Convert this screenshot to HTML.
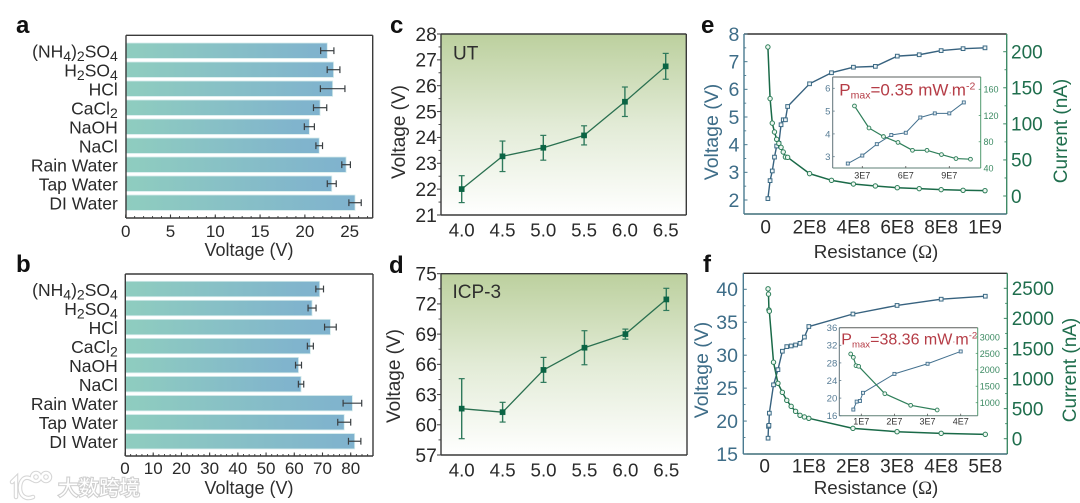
<!DOCTYPE html>
<html lang="en">
<head>
<meta charset="utf-8">
<title>Voltage and current characterization panels</title>
<style>
html,body{margin:0;padding:0;background:#fff;}
svg{display:block;filter:blur(0.35px);font-family:"Liberation Sans","Noto Sans CJK SC",sans-serif;}
</style>
</head>
<body>
<svg id="fig" xmlns="http://www.w3.org/2000/svg" width="1080" height="503" viewBox="0 0 1080 503">
  <defs>
    <linearGradient id="barGrad" x1="0" y1="0" x2="1" y2="0">
      <stop offset="0" stop-color="#8fcdbf"/><stop offset="1" stop-color="#7fb2ce"/>
    </linearGradient>
    <linearGradient id="plotGrad" x1="0" y1="0" x2="0" y2="1">
      <stop offset="0" stop-color="#bcd09e"/><stop offset="0.5" stop-color="#e2ebd6"/><stop offset="1" stop-color="#ffffff"/>
    </linearGradient>
  </defs>
  <rect x="0" y="0" width="1080" height="503" fill="#fff"/>

  <g id="panelA"></g>
  <g id="panelB"></g>
  <g id="panelC"></g>
  <g id="panelD"></g>
  <g id="panelE"></g>
  <g id="panelF"></g>

  <g font-size="24" font-weight="bold" fill="#111">
    <text x="16" y="33">a</text>
    <text x="16" y="272">b</text>
    <text x="390" y="33">c</text>
    <text x="389" y="273">d</text>
    <text x="701" y="33">e</text>
    <text x="703" y="272">f</text>
  </g>

  <g font-size="18" fill="#2e2e2e">
    <text x="249" y="256" text-anchor="middle">Voltage (V)</text>
    <text x="249" y="494" text-anchor="middle">Voltage (V)</text>
    <text transform="translate(405,132) rotate(-90)" text-anchor="middle" font-size="19">Voltage (V)</text>
    <text transform="translate(400,376) rotate(-90)" text-anchor="middle" font-size="19">Voltage (V)</text>
    <text x="453" y="59.5" font-size="19">UT</text>
    <text x="452.5" y="298" font-size="19">ICP-3</text>
    <text x="876" y="258" text-anchor="middle" font-size="18.8">Resistance (<tspan font-family="'Liberation Serif',serif">Ω</tspan>)</text>
    <text x="876" y="494" text-anchor="middle" font-size="18.8">Resistance (<tspan font-family="'Liberation Serif',serif">Ω</tspan>)</text>
    <text transform="translate(718,132) rotate(-90)" text-anchor="middle" font-size="19.5" fill="#3e6d88">Voltage (V)</text>
    <text transform="translate(1067,131) rotate(-90)" text-anchor="middle" font-size="19" fill="#1f6e4d">Current (nA)</text>
    <text transform="translate(708,370) rotate(-90)" text-anchor="middle" font-size="19.5" fill="#3e6d88">Voltage (V)</text>
    <text transform="translate(1076,370) rotate(-90)" text-anchor="middle" font-size="19" fill="#1f6e4d">Current (nA)</text>
  </g>

  <g fill="#b53c46">
    <text x="839.3" y="95.7" font-size="17">P<tspan font-size="10.5" dy="3">max</tspan><tspan dy="-3">=0.35 mW</tspan><tspan font-size="10">·</tspan>m<tspan font-size="10.5" dy="-6">-2</tspan></text>
    <text x="841.3" y="344.3" font-size="16">P<tspan font-size="9.6" dy="3">max</tspan><tspan dy="-3">=38.36 mW</tspan><tspan font-size="9">·</tspan>m<tspan font-size="9.6" dy="-6">-2</tspan></text>
  </g>

  <g>
    <g fill="none" stroke-linecap="round">
      <path d="M12 482L16 478V497M33 480C24 474 20 481 20 488C20 496 26 500 33 497M40 477a4 4 0 1 0 -8 0a4 4 0 1 0 8 0M50 477a4 4 0 1 0 -8 0a4 4 0 1 0 8 0" stroke="#d6d6d6" stroke-width="4.5"/>
      <path d="M12 482L16 478V497M33 480C24 474 20 481 20 488C20 496 26 500 33 497M40 477a4 4 0 1 0 -8 0a4 4 0 1 0 8 0M50 477a4 4 0 1 0 -8 0a4 4 0 1 0 8 0" stroke="#ffffff" stroke-width="2.4"/>
    </g>
    <text x="58" y="495" font-size="20.5" font-family="'Noto Sans CJK SC','Liberation Sans',sans-serif" fill="#ffffff" stroke="#cfcfcf" stroke-width="2.2" paint-order="stroke">大数跨境</text>
  </g>
</svg>

<script>
/* ---------- panel a data ---------- */
const categoriesA = ["(NH4)2SO4","H2SO4","HCl","CaCl2","NaOH","NaCl","Rain Water","Tap Water","DI Water"];
const voltageA = [22.5,23.2,23.1,21.7,20.5,21.6,24.6,23.0,25.6];
const errorA = [0.74,0.71,1.37,0.74,0.56,0.37,0.48,0.5,0.69];
const ticksA = [0,5,10,15,20,25];

/* ---------- panel b data ---------- */
const categoriesB = ["(NH4)2SO4","H2SO4","HCl","CaCl2","NaOH","NaCl","Rain Water","Tap Water","DI Water"];
const voltageB = [69.0,66.3,72.8,65.7,61.5,62.4,80.6,77.7,81.4];
const errorB = [1.36,1.42,2.07,1.06,1.06,0.95,3.3,2.3,2.2];
const ticksB = [0,10,20,30,40,50,60,70,80];

/* ---------- panel c data ---------- */
const humidityC = [4.0,4.5,5.0,5.5,6.0,6.5];
const voltageC = [22.0,23.27,23.6,24.08,25.38,26.75];
const errorC = [0.52,0.59,0.48,0.37,0.57,0.5];
const yTicksC = [21,22,23,24,25,26,27,28];
const xTickLabelsC = ["4.0","4.5","5.0","5.5","6.0","6.5"];

/* ---------- panel d data ---------- */
const humidityD = [4.0,4.5,5.0,5.5,6.0,6.5];
const voltageD = [61.6,61.25,65.45,67.65,69.0,72.45];
const errorD = [2.98,0.98,1.24,1.69,0.5,1.1];
const yTicksD = [57,60,63,66,69,72,75];
const xTickLabelsD = ["4.0","4.5","5.0","5.5","6.0","6.5"];

/* ---------- panel e data ---------- */
const resistanceE = [1e7,2e7,3e7,4e7,5e7,6e7,7e7,8e7,9e7,1e8,2e8,3e8,4e8,5e8,6e8,7e8,8e8,9e8,1e9];
const voltageE = [2.05,2.7,3.05,3.55,3.95,4.05,4.72,4.9,4.9,5.38,6.2,6.6,6.8,6.83,7.2,7.25,7.4,7.47,7.5];
const currentE = [206.5,135,101,88.7,78.6,73,67.4,61,54,53.6,31,21.7,16.6,13.9,11.5,10.2,8.8,7.9,7.4];
const xTickValuesE = [0,2e8,4e8,6e8,8e8,1e9];
const xTickLabelsE = ["0","2E8","4E8","6E8","8E8","1E9"];
const voltTicksE = [2,3,4,5,6,7,8];
const currTicksE = [0,50,100,150,200];
const insetResistanceVoltE = [2e7,3e7,4e7,5e7,6e7,7e7,8e7,9e7,1e8];
const insetVoltageE = [2.7,3.05,3.55,3.95,4.05,4.72,4.9,4.9,5.38];
const insetResistanceCurrE = [2.46e7,3.46e7,4.46e7,5.46e7,6.46e7,7.46e7,8.46e7,9.46e7,1.046e8];
const insetCurrentE = [134.6,101,88,79,67,67,60.5,54.4,53.4];
const insetXTickValuesE = [3e7,6e7,9e7];
const insetXTickLabelsE = ["3E7","6E7","9E7"];
const insetVoltTicksE = [3,4,5,6];
const insetCurrTicksE = [40,80,120,160];

/* ---------- panel f data ---------- */
const resistanceF = [0.76e7,0.86e7,0.96e7,1.05e7,2e7,3e7,4e7,5e7,6e7,7e7,8e7,9e7,1e8,2e8,3e8,4e8,5e8];
const voltageF = [17.4,19.2,19.35,21.2,25.5,27.8,30.6,31.3,31.4,31.55,31.8,32.75,34.35,36.25,37.55,38.5,38.95];
const currentF = [2491,2403,2141,2119,1271,921,771,638,538,455,389,361,339,172,116,89,72];
const xTickValuesF = [0,1e8,2e8,3e8,4e8,5e8];
const xTickLabelsF = ["0","1E8","2E8","3E8","4E8","5E8"];
const voltTicksF = [15,20,25,30,35,40];
const currTicksF = [0,500,1000,1500,2000,2500];
const insetResistanceVoltF = [0.76e7,0.86e7,0.96e7,1.05e7,2e7,3e7,4e7];
const insetVoltageF = [17.4,19.2,19.35,21.2,25.5,27.8,30.6];
const insetResistanceCurrF = [0.68e7,0.76e7,0.84e7,0.92e7,1.71e7,2.49e7,3.29e7];
const insetCurrentF = [2480,2379,2125,2106,1273,921,778];
const insetXTickValuesF = [1e7,2e7,3e7,4e7];
const insetXTickLabelsF = ["1E7","2E7","3E7","4E7"];
const insetVoltTicksF = [16,20,24,28,32,36];
const insetCurrTicksF = [1000,1500,2000,2500,3000];

/* ---------- helpers ---------- */
const NS = "http://www.w3.org/2000/svg";
const TEXT_DARK = "#2a2a2a", FRAME_DARK = "#3a3a3a";
const BLUE = "#3e6d88", GREEN = "#1f6e4d";

function linear(d0, d1, r0, r1) {
  return function (v) { return r0 + (v - d0) * (r1 - r0) / (d1 - d0); };
}
function raw(parent, tag, attrs) {
  const el = document.createElementNS(NS, tag);
  for (const k in attrs) el.setAttribute(k, attrs[k]);
  parent.appendChild(el);
  return el;
}
function seg(parent, name, x1, y1, x2, y2, color, w) {
  const el = raw(parent, "line", {x1: x1, y1: y1, x2: x2, y2: y2, stroke: color, "stroke-width": w});
  
  
  return el;
}
function label(parent, name, x, y, str, size, color, anchor) {
  const el = raw(parent, "text", {x: x, y: y, "font-size": size, fill: color, "text-anchor": anchor || "middle"});
  el.textContent = str;
  
  
  return el;
}
function chemLabel(parent, name, x, y, str, size, color) {
  const el = raw(parent, "text", {x: x, y: y, "font-size": size, fill: color, "text-anchor": "end"});
  
  
  const parts = str.split(/(\d+)/).filter(function (s) { return s.length; });
  let shifted = false;
  parts.forEach(function (part) {
    const isSub = /^\d+$/.test(part);
    const ts = document.createElementNS(NS, "tspan");
    ts.textContent = part;
    if (isSub) { ts.setAttribute("dy", "3.5"); ts.setAttribute("font-size", size * 0.8); shifted = true; }
    else if (shifted) { ts.setAttribute("dy", "-3.5"); shifted = false; }
    el.appendChild(ts);
  });
  return el;
}
function frame(parent, name, x0, y0, x1, y1, top, right, bottom, left, w) {
  seg(parent, name + "-top", x0, y0, x1, y0, top, w);
  seg(parent, name + "-right", x1, y0, x1, y1, right, w);
  seg(parent, name + "-bottom", x0, y1, x1, y1, bottom, w);
  seg(parent, name + "-left", x0, y0, x0, y1, left, w);
}
function polyline(parent, name, xs, ys, sx, sy, color, w) {
  const pts = xs.map(function (x, i) { return sx(x).toFixed(2) + "," + sy(ys[i]).toFixed(2); }).join(" ");
  const el = raw(parent, "polyline", {points: pts, fill: "none", stroke: color, "stroke-width": w, "stroke-linejoin": "round"});
  
  
  return el;
}
function squarePoints(parent, name, xs, ys, sx, sy, size, color, fill, w) {
  xs.forEach(function (x, i) {
    const el = raw(parent, "rect", {x: sx(x) - size / 2, y: sy(ys[i]) - size / 2, width: size, height: size, fill: fill, stroke: color, "stroke-width": w});
    
    
  });
}
function circlePoints(parent, name, xs, ys, sx, sy, r, color, fill, w) {
  xs.forEach(function (x, i) {
    const el = raw(parent, "circle", {cx: sx(x), cy: sy(ys[i]), r: r, fill: fill, stroke: color, "stroke-width": w});
    
    
  });
}

/* ---------- horizontal bars ---------- */
function drawBars(p, letter, cats, vals, errs, ticks, minorStep, box) {
  const sx = linear(0, box.max, box.zero, box.x1);
  const band = function (i) { return box.firstCenter + i * box.step; };
  cats.forEach(function (c, i) {
    const slug = c.toLowerCase().replace(/[^a-z0-9]+/g, "-");
    const bar = raw(p, "rect", {x: sx(0), y: band(i) - 7.7, width: sx(vals[i]) - sx(0), height: 15.4, fill: "url(#barGrad)", stroke: "#d6ecec", "stroke-width": 0.8});
    
    
    const lo = sx(vals[i] - errs[i]), hi = sx(vals[i] + errs[i]);
    seg(p, "error-bar-" + slug, lo, band(i), hi, band(i), "#3a3f42", 1.2);
    seg(p, "error-cap-low-" + slug, lo, band(i) - 3.4, lo, band(i) + 3.4, "#3a3f42", 1.2);
    seg(p, "error-cap-high-" + slug, hi, band(i) - 3.4, hi, band(i) + 3.4, "#3a3f42", 1.2);
    chemLabel(p, "category-label-" + slug, 117.8, band(i) + 7, c, 17.5, TEXT_DARK);
  });
  frame(p, "plot-frame-" + letter, box.x0, box.y0, box.x1, box.y1, FRAME_DARK, FRAME_DARK, FRAME_DARK, FRAME_DARK, 1.4);
  for (let v = 0; v <= box.max; v += minorStep) {
    seg(p, "x-minor-tick-" + letter, sx(v), box.y1, sx(v), box.y1 - 2, FRAME_DARK, 0.9);
  }
  ticks.forEach(function (t) {
    seg(p, "x-major-tick-" + letter, sx(t), box.y1, sx(t), box.y1 - 3.5, FRAME_DARK, 1.1);
    label(p, "x-tick-label-" + letter, sx(t), box.labelY, String(t), 17, TEXT_DARK);
  });
}
drawBars(document.getElementById("panelA"), "a", categoriesA, voltageA, errorA, ticksA, 1,
  {x0: 126, x1: 372.7, y0: 35.3, y1: 218, zero: 125.7, max: 27.57, firstCenter: 50.7, step: 19, labelY: 237});
drawBars(document.getElementById("panelB"), "b", categoriesB, voltageB, errorB, ticksB, 2,
  {x0: 125.3, x1: 373, y0: 274, y1: 456, zero: 125, max: 87.9, firstCenter: 289, step: 19.03, labelY: 474});

/* ---------- error-bar line charts ---------- */
function drawLine(p, letter, xs, ys, errs, yTicks, xLabels, yMinor, box) {
  const bg = raw(p, "rect", {x: box.x0, y: box.y0, width: box.x1 - box.x0, height: box.y1 - box.y0, fill: "url(#plotGrad)"});
  
  
  const sx = linear(4, 6.5, box.xa, box.xb);
  const sy = linear(yTicks[0], yTicks[yTicks.length - 1], box.y1, box.y0);
  frame(p, "plot-frame-" + letter, box.x0, box.y0, box.x1, box.y1, FRAME_DARK, FRAME_DARK, FRAME_DARK, FRAME_DARK, 1.4);
  yTicks.forEach(function (t, i) {
    seg(p, "y-major-tick-" + letter, box.x0, sy(t), box.x0 - 4, sy(t), FRAME_DARK, 1);
    label(p, "y-tick-label-" + letter, 436.8, sy(t) + 6.8, String(t), 19.3, TEXT_DARK, "end");
    if (i < yTicks.length - 1) seg(p, "y-minor-tick-" + letter, box.x0, sy(t + yMinor), box.x0 - 2.5, sy(t + yMinor), FRAME_DARK, 0.9);
  });
  xLabels.forEach(function (t, i) {
    label(p, "x-tick-label-" + letter, sx(xs[i]), box.labelY, t, 18.7, TEXT_DARK);
  });
  polyline(p, "voltage-line-" + letter, xs, ys, sx, sy, "#2a7050", 1.3);
  xs.forEach(function (x, i) {
    const hi = sy(ys[i] + errs[i]), lo = sy(ys[i] - errs[i]), px = sx(x);
    seg(p, "error-bar-" + letter, px, hi, px, lo, "#2f7a5c", 1.4);
    seg(p, "error-cap-top-" + letter, px - 3, hi, px + 3, hi, "#2f7a5c", 1.2);
    seg(p, "error-cap-bottom-" + letter, px - 3, lo, px + 3, lo, "#2f7a5c", 1.2);
  });
  squarePoints(p, "voltage-point-" + letter, xs, ys, sx, sy, 5.4, "#0b6444", "#0b6444", 0.3);
}
drawLine(document.getElementById("panelC"), "c", humidityC, voltageC, errorC, yTicksC, xTickLabelsC, 0.5,
  {x0: 441, x1: 686.3, y0: 34, y1: 215, xa: 461.7, xb: 665.7, labelY: 236.7});
drawLine(document.getElementById("panelD"), "d", humidityD, voltageD, errorD, yTicksD, xTickLabelsD, 1.5,
  {x0: 441, x1: 687, y0: 273.7, y1: 455, xa: 461.7, xb: 666.3, labelY: 476.7});

/* ---------- dual axis charts ---------- */
function drawDual(p, letter, c) {
  frame(p, "plot-frame-" + letter, c.x0, c.y0, c.x1, c.y1, "#333333", "#3f8a66", "#3f6e78", "#4a7a90", 1.4);
  c.voltTicks.forEach(function (t, i) {
    seg(p, "left-major-tick-" + letter, c.x0, c.sv(t), c.x0 + 3.5, c.sv(t), "#4a7a90", 1);
    label(p, "left-tick-label-" + letter, c.leftEdge, c.sv(t) + 6.8, String(t), 19.5, BLUE, "end");
    if (i < c.voltTicks.length - 1) {
      const m = (t + c.voltTicks[i + 1]) / 2;
      seg(p, "left-minor-tick-" + letter, c.x0, c.sv(m), c.x0 + 2.2, c.sv(m), "#4a7a90", 0.9);
    }
  });
  c.currTicks.forEach(function (t, i) {
    seg(p, "right-major-tick-" + letter, c.x1, c.si(t), c.x1 - 3.5, c.si(t), "#3f8a66", 1);
    label(p, "right-tick-label-" + letter, c.rightEdge, c.si(t) + 6.8, String(t), 19, GREEN, "start");
    if (i < c.currTicks.length - 1) {
      const m = (t + c.currTicks[i + 1]) / 2;
      seg(p, "right-minor-tick-" + letter, c.x1, c.si(m), c.x1 - 2.2, c.si(m), "#3f8a66", 0.9);
    }
  });
  c.xVals.forEach(function (t, i) {
    label(p, "x-tick-label-" + letter, c.sx(t), c.labelY, c.xLabels[i], 19, TEXT_DARK);
  });
  polyline(p, "voltage-line-" + letter, c.res, c.volt, c.sx, c.sv, "#37627f", 1.4);
  polyline(p, "current-line-" + letter, c.res, c.curr, c.sx, c.si, "#1a6a48", 1.5);
  squarePoints(p, "voltage-point-" + letter, c.res, c.volt, c.sx, c.sv, 3.7, "#3b6a85", "#eef4f6", 1);
  circlePoints(p, "current-point-" + letter, c.res, c.curr, c.sx, c.si, 2.2, "#2b7d58", "#eef6f0", 1);
}
function drawInset(p, letter, c) {
  const bg = raw(p, "rect", {x: c.x0, y: c.y0, width: c.x1 - c.x0, height: c.y1 - c.y0, fill: "#ffffff"});
  
  
  frame(p, "inset-frame-" + letter, c.x0, c.y0, c.x1, c.y1, "#5a5f5c", "#4f9a6c", "#5d7f74", "#5f7278", 1);
  c.voltTicks.forEach(function (t) {
    seg(p, "inset-left-tick-" + letter, c.x0, c.sv(t), c.x0 + 2, c.sv(t), "#5f7a8a", 0.8);
    label(p, "inset-left-tick-label-" + letter, c.leftEdge, c.sv(t) + 3.4, String(t), 9.6, "#587d96", "end");
  });
  c.currTicks.forEach(function (t) {
    seg(p, "inset-right-tick-" + letter, c.x1, c.si(t), c.x1 - 2, c.si(t), "#4f9a6c", 0.8);
    label(p, "inset-right-tick-label-" + letter, c.rightEdge, c.si(t) + 3.4, String(t), 9, "#3b8a62", "start");
  });
  c.xVals.forEach(function (t, i) {
    seg(p, "inset-x-tick-" + letter, c.sx(t), c.y1, c.sx(t), c.y1 - 2, "#555", 0.8);
    label(p, "inset-x-tick-label-" + letter, c.sx(t), c.labelY, c.xLabels[i], 9, "#333333");
  });
  polyline(p, "inset-voltage-line-" + letter, c.resV, c.volt, c.sx, c.sv, "#44718f", 1);
  polyline(p, "inset-current-line-" + letter, c.resI, c.curr, c.sx, c.si, "#2f7f5a", 1.2);
  squarePoints(p, "inset-voltage-point-" + letter, c.resV, c.volt, c.sx, c.sv, 3, "#44718f", "#e6eef2", 0.9);
  circlePoints(p, "inset-current-point-" + letter, c.resI, c.curr, c.sx, c.si, 1.9, "#2b7d58", "#eef6f0", 0.9);
}

const panelE = document.getElementById("panelE");
drawDual(panelE, "e", {
  x0: 744, x1: 1006.7, y0: 34, y1: 214, leftEdge: 739.3, rightEdge: 1011, labelY: 233.3,
  sx: linear(0, 1e9, 765.7, 985), sv: linear(2, 8, 200, 34), si: linear(0, 200, 196, 51.7),
  res: resistanceE, volt: voltageE, curr: currentE,
  voltTicks: voltTicksE, currTicks: currTicksE, xVals: xTickValuesE, xLabels: xTickLabelsE
});
drawInset(panelE, "e", {
  x0: 832.7, x1: 980.7, y0: 77, y1: 168, leftEdge: 830.5, rightEdge: 983.5, labelY: 178.5,
  sx: linear(3e7, 9e7, 862.3, 949.3), sv: linear(3, 6, 156.7, 88.3), si: linear(40, 160, 168, 89.3),
  resV: insetResistanceVoltE, volt: insetVoltageE, resI: insetResistanceCurrE, curr: insetCurrentE,
  voltTicks: insetVoltTicksE, currTicks: insetCurrTicksE, xVals: insetXTickValuesE, xLabels: insetXTickLabelsE
});

const panelF = document.getElementById("panelF");
drawDual(panelF, "f", {
  x0: 743.3, x1: 1007.3, y0: 273.3, y1: 454, leftEdge: 738, rightEdge: 1011.7, labelY: 472.7,
  sx: linear(0, 5e8, 764.7, 985.3), sv: linear(15, 40, 454, 289.3), si: linear(0, 2500, 438.7, 288.3),
  res: resistanceF, volt: voltageF, curr: currentF,
  voltTicks: voltTicksF, currTicks: currTicksF, xVals: xTickValuesF, xLabels: xTickLabelsF
});
drawInset(panelF, "f", {
  x0: 839.3, x1: 977.7, y0: 327.7, y1: 415.7, leftEdge: 837.3, rightEdge: 979.8, labelY: 424.5,
  sx: linear(1e7, 4e7, 861.3, 960.7), sv: linear(16, 36, 415.7, 327.7), si: linear(1000, 3000, 402.7, 336.9),
  resV: insetResistanceVoltF, volt: insetVoltageF, resI: insetResistanceCurrF, curr: insetCurrentF,
  voltTicks: insetVoltTicksF, currTicks: insetCurrTicksF, xVals: insetXTickValuesF, xLabels: insetXTickLabelsF
});
</script>
</body>
</html>
